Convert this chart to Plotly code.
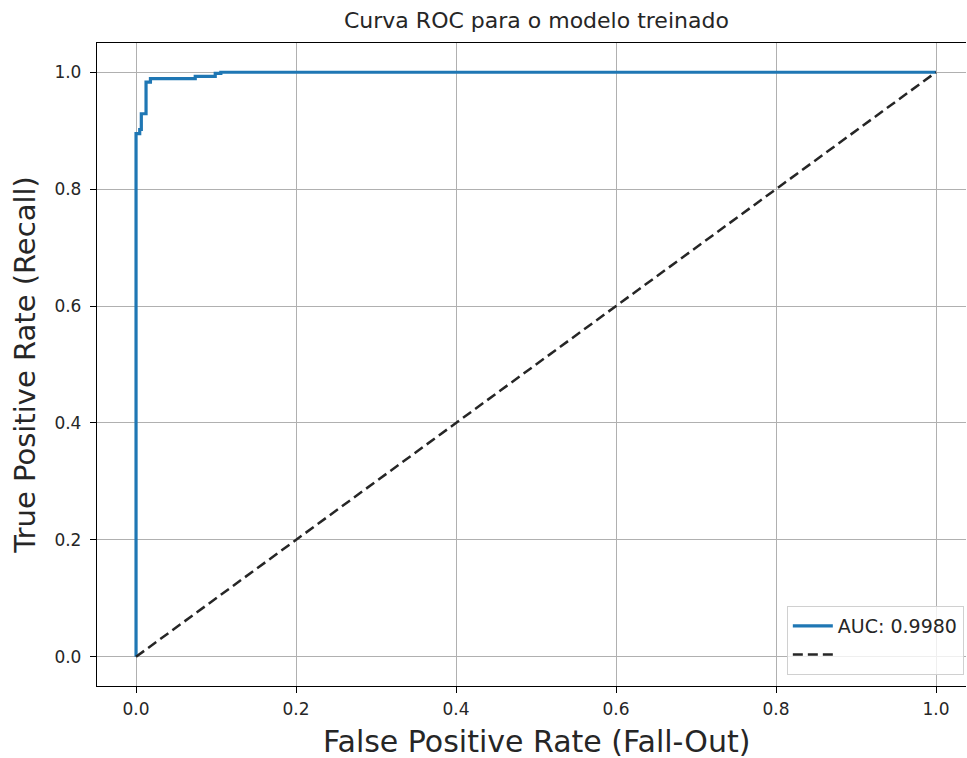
import plotly.graph_objects as go

# ROC curve points of the trained model
fpr = [0.0, 0.0, 0.0046, 0.0046, 0.0066, 0.0066, 0.0125, 0.0125, 0.018, 0.018,
       0.074, 0.074, 0.099, 0.099, 0.106, 0.106, 1.0]
tpr = [0.0, 0.895, 0.895, 0.902, 0.902, 0.929, 0.929, 0.983, 0.983, 0.989,
       0.989, 0.993, 0.993, 0.998, 0.998, 1.0, 1.0]
auc_value = 0.9980

# chance diagonal
diag_x = [0.0, 1.0]
diag_y = [0.0, 1.0]

tick_vals = [0.0, 0.2, 0.4, 0.6, 0.8, 1.0]
tick_text = ["0.0", "0.2", "0.4", "0.6", "0.8", "1.0"]

title_text = "Curva ROC para o modelo treinado"
xlabel_text = "False Positive Rate (Fall-Out)"
ylabel_text = "True Positive Rate (Recall)"

font_family = "DejaVu Sans, sans-serif"
text_color = "#262626"

W, H = 967, 758
M_L, M_R, M_T, M_B = 97, 1, 43, 72
X_RANGE = [-0.0488, 1.0375]
Y_RANGE = [-0.05, 1.05]

# the axes box runs slightly past the right edge; centre text on the full box
AXES_CENTER_PX = 536


def px_to_paper_x(px):
    return (px - M_L) / (W - M_L - M_R)


def px_to_paper_y(py):
    return (H - M_B - py) / (H - M_T - M_B)


fig = go.Figure()
fig.add_trace(go.Scatter(
    x=fpr, y=tpr, mode="lines", name=f"AUC: {auc_value:.4f}",
    line=dict(color="#1f77b4", width=3.2),
    legendgroup="roc",
))
fig.add_trace(go.Scatter(
    x=diag_x, y=diag_y, mode="lines", name=" ",
    line=dict(color="#262626", width=2.5, dash="10px,5px"),
    legendgroup="diag",
))

axis_common = dict(
    tickvals=tick_vals, ticktext=tick_text,
    showgrid=True, gridcolor="#b0b0b0", gridwidth=1.3,
    zeroline=False, showline=True, linecolor="#000000", linewidth=1.3,
    ticks="outside", ticklen=6, tickwidth=1.3, tickcolor="#000000",
    tickfont=dict(size=17, color=text_color, family=font_family),
)

fig.update_layout(
    width=W, height=H,
    margin=dict(l=M_L, r=M_R, t=M_T, b=M_B),
    paper_bgcolor="white", plot_bgcolor="white",
    xaxis=dict(range=X_RANGE, mirror=True, ticklabelstandoff=1, **axis_common),
    yaxis=dict(range=Y_RANGE, mirror=False, ticklabelstandoff=5,
               title=dict(text=ylabel_text, standoff=10,
                          font=dict(size=29, color=text_color, family=font_family)),
               **axis_common),
    showlegend=True,
    legend=dict(x=0.9975, y=0.017, xanchor="right", yanchor="bottom",
                bgcolor="rgba(255,255,255,0.8)", bordercolor="#d0d0d0", borderwidth=1,
                font=dict(size=19, color=text_color, family=font_family),
                traceorder="grouped", tracegroupgap=1, itemwidth=40),
    annotations=[
        dict(text=title_text, xref="paper", yref="paper",
             x=px_to_paper_x(AXES_CENTER_PX), y=px_to_paper_y(21),
             xanchor="center", yanchor="middle", showarrow=False,
             font=dict(size=22, color=text_color, family=font_family)),
        dict(text=xlabel_text, xref="paper", yref="paper",
             x=px_to_paper_x(AXES_CENTER_PX), y=px_to_paper_y(741),
             xanchor="center", yanchor="middle", showarrow=False,
             font=dict(size=30, color=text_color, family=font_family)),
    ],
)

fig.write_html("out.html")
